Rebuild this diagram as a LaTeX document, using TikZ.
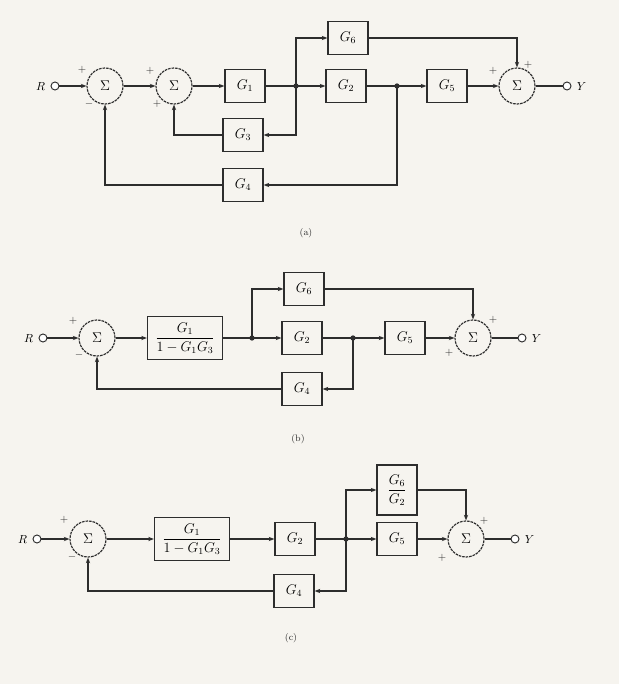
\documentclass[tikz,border=0pt]{standalone}
\usepackage{amsmath}
\usepackage{amssymb}
\usetikzlibrary{calc, positioning}
\usetikzlibrary{arrows.meta}

\definecolor{paper}{RGB}{246,244,239}
\definecolor{ink}{RGB}{45,45,45}

\begin{document}
\begin{tikzpicture}[x=0.03cm, y=-0.03cm,
  wire/.style={draw=ink, line width=0.9pt},
  sig/.style={wire, -{Stealth[length=1.7mm, width=1.3mm]}},
  blk/.style={draw=ink, line width=1.1pt, minimum width=1.2cm, minimum height=1.0cm, inner sep=1pt, font=\large},
  fracblk/.style={blk, minimum width=2.25cm, minimum height=1.3cm},
  sumnode/.style={circle, draw=ink, line width=1pt, dash pattern=on 2.2pt off 0.8pt, minimum size=1.08cm, inner sep=0pt, font=\large},
  term/.style={circle, draw=ink, line width=0.8pt, fill=white, minimum size=0.24cm, inner sep=0pt},
  jn/.style={circle, fill=ink, minimum size=4.5pt, inner sep=0pt},
  sgn/.style={font=\small, text=ink},
  captxt/.style={font=\footnotesize, text=ink}]
\fill[paper] (0,0) rectangle (619,684);
\useasboundingbox (0,0) rectangle (619,684);

% (a)
\node[term] (rA) at (55,86) {};
\node[left=1pt of rA] (labRA) {$R$};
\node[sumnode] (sumA1) at (105,86) {$\Sigma$};
\node[sumnode] (sumA2) at (174,86) {$\Sigma$};
\node[blk] (gA1) at (245,86) {$G_1$};
\node[jn] (jA1) at (296,86) {};
\node[blk] (gA6) at (348,38) {$G_6$};
\node[blk] (gA2) at (346,86) {$G_2$};
\node[jn] (jA2) at (397,86) {};
\node[blk] (gA5) at (447,86) {$G_5$};
\node[sumnode] (sumA3) at (517,86) {$\Sigma$};
\node[term] (yA) at (567,86) {};
\node[right=1pt of yA] (labYA) {$Y$};
\node[blk] (gA3) at (243,135) {$G_3$};
\node[blk] (gA4) at (243,185) {$G_4$};

\draw[sig] (rA) -- (sumA1);
\draw[sig] (sumA1) -- (sumA2);
\draw[sig] (sumA2) -- (gA1);
\draw[wire] (gA1) -- (jA1.center);
\draw[sig] (jA1.center) |- (gA6);
\draw[sig] (jA1.center) -- (gA2);
\draw[wire] (gA2) -- (jA2.center);
\draw[sig] (jA2.center) -- (gA5);
\draw[sig] (gA5) -- (sumA3);
\draw[sig] (gA6) -| (sumA3);
\draw[wire] (sumA3) -- (yA);
\draw[sig] (jA1.center) |- (gA3);
\draw[sig] (gA3) -| (sumA2);
\draw[sig] (jA2.center) |- (gA4);
\draw[sig] (gA4) -| (sumA1);

\node[sgn] at ($(sumA1)+(-23,-16)$) {$+$};
\node[sgn] at ($(sumA1)+(-16,18)$) {$-$};
\node[sgn] at ($(sumA2)+(-24,-15)$) {$+$};
\node[sgn] at ($(sumA2)+(-17,18)$) {$+$};
\node[sgn] at ($(sumA3)+(-24,-15)$) {$+$};
\node[sgn] at ($(sumA3)+(11,-21)$) {$+$};
\node[captxt] (capA) at (306,233) {(a)};

% (b)
\node[term] (rB) at (43,338) {};
\node[left=1pt of rB] (labRB) {$R$};
\node[sumnode] (sumB1) at (97,338) {$\Sigma$};
\node[fracblk] (gB1) at (185,338) {$\dfrac{G_1}{1-G_1G_3}$};
\node[jn] (jB1) at (252,338) {};
\node[blk] (gB6) at (304,289) {$G_6$};
\node[blk] (gB2) at (302,338) {$G_2$};
\node[jn] (jB2) at (353,338) {};
\node[blk] (gB5) at (405,338) {$G_5$};
\node[sumnode] (sumB2) at (473,338) {$\Sigma$};
\node[term] (yB) at (522,338) {};
\node[right=1pt of yB] (labYB) {$Y$};
\node[blk] (gB4) at (302,389) {$G_4$};

\draw[sig] (rB) -- (sumB1);
\draw[sig] (sumB1) -- (gB1);
\draw[wire] (gB1) -- (jB1.center);
\draw[sig] (jB1.center) |- (gB6);
\draw[sig] (jB1.center) -- (gB2);
\draw[wire] (gB2) -- (jB2.center);
\draw[sig] (jB2.center) -- (gB5);
\draw[sig] (gB5) -- (sumB2);
\draw[sig] (gB6) -| (sumB2);
\draw[wire] (sumB2) -- (yB);
\draw[sig] (jB2.center) |- (gB4);
\draw[sig] (gB4) -| (sumB1);

\node[sgn] at ($(sumB1)+(-24,-17)$) {$+$};
\node[sgn] at ($(sumB1)+(-18,17)$) {$-$};
\node[sgn] at ($(sumB2)+(-24,15)$) {$+$};
\node[sgn] at ($(sumB2)+(20,-18)$) {$+$};
\node[captxt] (capB) at (298,439) {(b)};

% (c)
\node[term] (rC) at (37,539) {};
\node[left=1pt of rC] (labRC) {$R$};
\node[sumnode] (sumC1) at (88,539) {$\Sigma$};
\node[fracblk] (gC1) at (192,539) {$\dfrac{G_1}{1-G_1G_3}$};
\node[blk] (gC2) at (295,539) {$G_2$};
\node[jn] (jC1) at (346,539) {};
\node[blk, minimum height=1.5cm] (gC62) at (397,490) {$\dfrac{G_6}{G_2}$};
\node[blk] (gC5) at (397,539) {$G_5$};
\node[sumnode] (sumC2) at (466,539) {$\Sigma$};
\node[term] (yC) at (515,539) {};
\node[right=1pt of yC] (labYC) {$Y$};
\node[blk] (gC4) at (294,591) {$G_4$};

\draw[sig] (rC) -- (sumC1);
\draw[sig] (sumC1) -- (gC1);
\draw[sig] (gC1) -- (gC2);
\draw[wire] (gC2) -- (jC1.center);
\draw[sig] (jC1.center) |- (gC62);
\draw[sig] (jC1.center) -- (gC5);
\draw[sig] (gC5) -- (sumC2);
\draw[sig] (gC62) -| (sumC2);
\draw[wire] (sumC2) -- (yC);
\draw[sig] (jC1.center) |- (gC4);
\draw[sig] (gC4) -| (sumC1);

\node[sgn] at ($(sumC1)+(-24,-19)$) {$+$};
\node[sgn] at ($(sumC1)+(-16,18)$) {$-$};
\node[sgn] at ($(sumC2)+(-24,19)$) {$+$};
\node[sgn] at ($(sumC2)+(18,-18)$) {$+$};
\node[captxt] (capC) at (291,638) {(c)};
\end{tikzpicture}
\end{document}
